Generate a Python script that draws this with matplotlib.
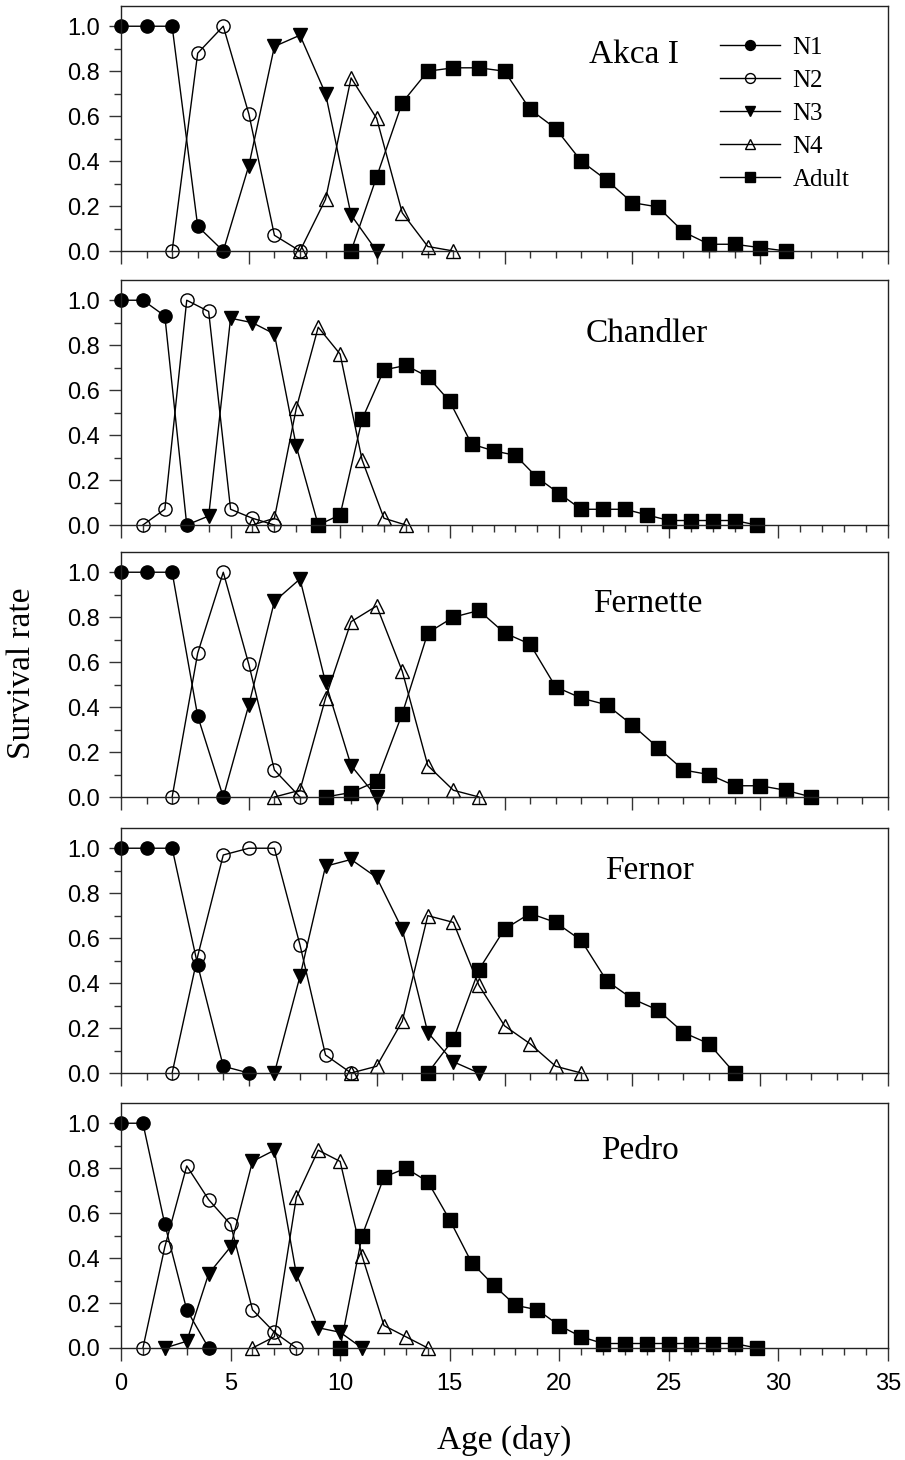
import numpy as np
import matplotlib

matplotlib.use("Agg")
import matplotlib.pyplot as plt
from matplotlib.ticker import MultipleLocator

plt.rcParams["font.family"] = ["Liberation Sans", "DejaVu Sans"]
SERIF = ["Liberation Serif", "DejaVu Serif"]

# ---------------- data (survival rate by age in days) ----------------
cultivars = ["Akca I", "Chandler", "Fernette", "Fernor", "Pedro"]
x_max = [30, 35, 30, 30, 35]

# Akca I
akca_n1_x = [0, 1, 2, 3, 4]
akca_n1_y = [1.0, 1.0, 1.0, 0.11, 0.0]
akca_n2_x = [2, 3, 4, 5, 6, 7]
akca_n2_y = [0.0, 0.88, 1.0, 0.61, 0.07, 0.0]
akca_n3_x = [4, 5, 6, 7, 8, 9, 10]
akca_n3_y = [0.0, 0.38, 0.91, 0.96, 0.70, 0.16, 0.0]
akca_n4_x = [7, 8, 9, 10, 11, 12, 13]
akca_n4_y = [0.0, 0.23, 0.77, 0.59, 0.17, 0.02, 0.0]
akca_ad_x = [9, 10, 11, 12, 13, 14, 15, 16, 17, 18, 19, 20, 21, 22, 23, 24, 25, 26]
akca_ad_y = [0.0, 0.33, 0.66, 0.80, 0.815, 0.815, 0.80, 0.63, 0.545, 0.40, 0.315,
             0.215, 0.196, 0.085, 0.03, 0.03, 0.015, 0.0]

# Chandler
chan_n1_x = [0, 1, 2, 3]
chan_n1_y = [1.0, 1.0, 0.93, 0.0]
chan_n2_x = [1, 2, 3, 4, 5, 6, 7]
chan_n2_y = [0.0, 0.07, 1.0, 0.95, 0.07, 0.03, 0.0]
chan_n3_x = [3, 4, 5, 6, 7, 8, 9]
chan_n3_y = [0.0, 0.04, 0.92, 0.90, 0.85, 0.35, 0.0]
chan_n4_x = [6, 7, 8, 9, 10, 11, 12, 13]
chan_n4_y = [0.0, 0.03, 0.52, 0.88, 0.76, 0.29, 0.03, 0.0]
chan_ad_x = [9, 10, 11, 12, 13, 14, 15, 16, 17, 18, 19, 20, 21, 22, 23, 24, 25,
             26, 27, 28, 29]
chan_ad_y = [0.0, 0.045, 0.47, 0.69, 0.71, 0.66, 0.55, 0.36, 0.33, 0.31, 0.21,
             0.14, 0.07, 0.07, 0.07, 0.045, 0.02, 0.02, 0.02, 0.02, 0.0]

# Fernette
fette_n1_x = [0, 1, 2, 3, 4]
fette_n1_y = [1.0, 1.0, 1.0, 0.36, 0.0]
fette_n2_x = [2, 3, 4, 5, 6, 7]
fette_n2_y = [0.0, 0.64, 1.0, 0.59, 0.12, 0.0]
fette_n3_x = [4, 5, 6, 7, 8, 9, 10]
fette_n3_y = [0.0, 0.41, 0.87, 0.97, 0.51, 0.14, 0.0]
fette_n4_x = [6, 7, 8, 9, 10, 11, 12, 13, 14]
fette_n4_y = [0.0, 0.03, 0.44, 0.78, 0.85, 0.56, 0.14, 0.03, 0.0]
fette_ad_x = [8, 9, 10, 11, 12, 13, 14, 15, 16, 17, 18, 19, 20, 21, 22, 23, 24,
              25, 26, 27]
fette_ad_y = [0.0, 0.02, 0.07, 0.37, 0.73, 0.80, 0.83, 0.73, 0.68, 0.49, 0.44,
              0.41, 0.32, 0.22, 0.12, 0.10, 0.05, 0.05, 0.03, 0.0]

# Fernor
fnor_n1_x = [0, 1, 2, 3, 4, 5]
fnor_n1_y = [1.0, 1.0, 1.0, 0.48, 0.03, 0.0]
fnor_n2_x = [2, 3, 4, 5, 6, 7, 8, 9]
fnor_n2_y = [0.0, 0.52, 0.97, 1.0, 1.0, 0.57, 0.08, 0.0]
fnor_n3_x = [6, 7, 8, 9, 10, 11, 12, 13, 14]
fnor_n3_y = [0.0, 0.43, 0.92, 0.95, 0.87, 0.64, 0.18, 0.05, 0.0]
fnor_n4_x = [9, 10, 11, 12, 13, 14, 15, 16, 17, 18]
fnor_n4_y = [0.0, 0.03, 0.23, 0.70, 0.67, 0.39, 0.21, 0.13, 0.03, 0.0]
fnor_ad_x = [12, 13, 14, 15, 16, 17, 18, 19, 20, 21, 22, 23, 24]
fnor_ad_y = [0.0, 0.15, 0.46, 0.64, 0.71, 0.67, 0.59, 0.41, 0.33, 0.28, 0.18,
             0.13, 0.0]

# Pedro
ped_n1_x = [0, 1, 2, 3, 4]
ped_n1_y = [1.0, 1.0, 0.55, 0.17, 0.0]
ped_n2_x = [1, 2, 3, 4, 5, 6, 7, 8]
ped_n2_y = [0.0, 0.45, 0.81, 0.66, 0.55, 0.17, 0.07, 0.0]
ped_n3_x = [2, 3, 4, 5, 6, 7, 8, 9, 10, 11]
ped_n3_y = [0.0, 0.03, 0.33, 0.45, 0.83, 0.88, 0.33, 0.09, 0.07, 0.0]
ped_n4_x = [6, 7, 8, 9, 10, 11, 12, 13, 14]
ped_n4_y = [0.0, 0.05, 0.67, 0.88, 0.83, 0.41, 0.10, 0.05, 0.0]
ped_ad_x = [10, 11, 12, 13, 14, 15, 16, 17, 18, 19, 20, 21, 22, 23, 24, 25, 26,
            27, 28, 29]
ped_ad_y = [0.0, 0.50, 0.76, 0.80, 0.74, 0.57, 0.38, 0.28, 0.19, 0.17, 0.10,
            0.05, 0.02, 0.02, 0.02, 0.02, 0.02, 0.02, 0.02, 0.0]

panels = [
    {"N1": (akca_n1_x, akca_n1_y), "N2": (akca_n2_x, akca_n2_y),
     "N3": (akca_n3_x, akca_n3_y), "N4": (akca_n4_x, akca_n4_y),
     "Adult": (akca_ad_x, akca_ad_y)},
    {"N1": (chan_n1_x, chan_n1_y), "N2": (chan_n2_x, chan_n2_y),
     "N3": (chan_n3_x, chan_n3_y), "N4": (chan_n4_x, chan_n4_y),
     "Adult": (chan_ad_x, chan_ad_y)},
    {"N1": (fette_n1_x, fette_n1_y), "N2": (fette_n2_x, fette_n2_y),
     "N3": (fette_n3_x, fette_n3_y), "N4": (fette_n4_x, fette_n4_y),
     "Adult": (fette_ad_x, fette_ad_y)},
    {"N1": (fnor_n1_x, fnor_n1_y), "N2": (fnor_n2_x, fnor_n2_y),
     "N3": (fnor_n3_x, fnor_n3_y), "N4": (fnor_n4_x, fnor_n4_y),
     "Adult": (fnor_ad_x, fnor_ad_y)},
    {"N1": (ped_n1_x, ped_n1_y), "N2": (ped_n2_x, ped_n2_y),
     "N3": (ped_n3_x, ped_n3_y), "N4": (ped_n4_x, ped_n4_y),
     "Adult": (ped_ad_x, ped_ad_y)},
]

legend_order = ["N1", "N2", "N3", "N4", "Adult"]
draw_order = ["N3", "N4", "N2", "N1", "Adult"]
styles = {
    "N1": dict(marker="o", mfc="black"),
    "N2": dict(marker="o", mfc="none"),
    "N3": dict(marker="v", mfc="black"),
    "N4": dict(marker="^", mfc="none"),
    "Adult": dict(marker="s", mfc="black"),
}

# panel geometry in pixels (top edge of frame, y=0 line)
W, H = 905, 1460
left_px, right_px = 121, 888
tops = [6, 280, 552, 828, 1103]
panel_h = 245
label_pos = [(0.669, 0.80), (0.685, 0.782), (0.687, 0.789), (0.689, 0.827),
             (0.677, 0.807)]

fig = plt.figure(figsize=(W / 100, H / 100), dpi=100)

for i, (name, data) in enumerate(zip(cultivars, panels)):
    bottom = tops[i] + panel_h
    ax = fig.add_axes([left_px / W, 1 - bottom / H,
                       (right_px - left_px) / W, panel_h / H])
    handles = {}
    for stage in draw_order:
        xs, ys = data[stage]
        show = np.ones(len(xs), dtype=bool)
        if stage == "N3":
            # hide N3 markers sitting under a filled N1/Adult marker
            for other in ("N1", "Adult"):
                ox, oy = data[other]
                for j, (xv, yv) in enumerate(zip(xs, ys)):
                    if any(xv == a and yv == b for a, b in zip(ox, oy)):
                        show[j] = False
        ln, = ax.plot(xs, ys, color="black", lw=1.0, ms=9.5, mec="black",
                      mew=1.0, markevery=list(np.where(show)[0]),
                      clip_on=False, label=stage, **styles[stage])
        handles[stage] = ln

    ax.set_xlim(0, x_max[i])
    ax.set_ylim(0, 1.09)
    ax.xaxis.set_major_locator(MultipleLocator(5))
    ax.xaxis.set_minor_locator(MultipleLocator(1))
    ax.yaxis.set_major_locator(MultipleLocator(0.2))
    ax.yaxis.set_minor_locator(MultipleLocator(0.1))
    ax.set_yticks([0, 0.2, 0.4, 0.6, 0.8, 1.0])
    ax.set_yticklabels(["0.0", "0.2", "0.4", "0.6", "0.8", "1.0"])
    ax.tick_params(which="major", direction="out", length=9, width=1.0,
                   labelsize=17, color="#333333")
    ax.tick_params(which="minor", direction="out", length=5, width=1.0,
                   color="#333333")
    ax.tick_params(axis="y", pad=6)
    ax.tick_params(axis="x", pad=9)
    for sp in ax.spines.values():
        sp.set_linewidth(1.0)
        sp.set_color("#222222")
    if i < 4:
        ax.tick_params(axis="x", labelbottom=False)

    ax.text(label_pos[i][0], label_pos[i][1], name, transform=ax.transAxes,
            ha="center", va="center", fontsize=24, family=SERIF)

    if i == 0:
        leg = ax.legend([handles[s] for s in legend_order], legend_order,
                        loc="upper left", bbox_to_anchor=(0.781, 0.875),
                        frameon=False, borderpad=0, borderaxespad=0,
                        handlelength=2.4, handletextpad=0.5, labelspacing=0.42,
                        markerscale=0.75, prop={"family": SERIF, "size": 18})

fig.text(22 / W, 1 - 673 / H, "Survival rate", rotation=90, ha="center",
         va="center", fontsize=24, family=SERIF)
fig.text((left_px + right_px) / 2 / W, 1 - 1440 / H, "Age (day)", ha="center",
         va="center", fontsize=24, family=SERIF)

fig.savefig("out.png", dpi=100)
